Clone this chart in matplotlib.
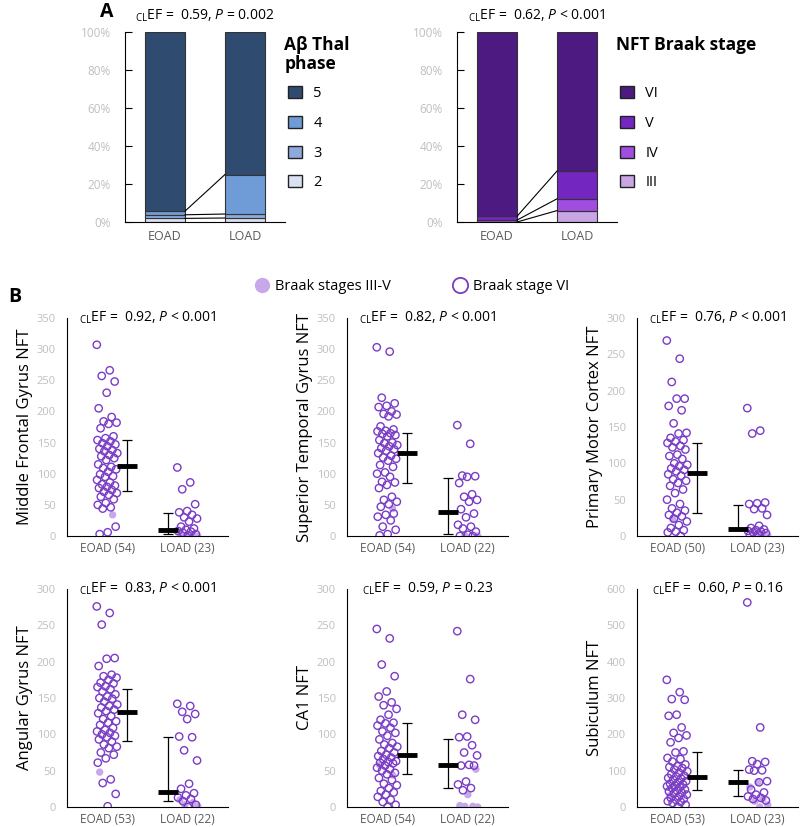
import numpy as np
import matplotlib.pyplot as plt
from matplotlib.patches import Patch
from matplotlib.lines import Line2D

plt.rcParams['font.family'] = ['Open Sans', 'Noto Sans', 'DejaVu Sans']
plt.rcParams['mathtext.fontset'] = 'custom'
plt.rcParams['mathtext.rm'] = 'Open Sans'
plt.rcParams['mathtext.it'] = 'Open Sans:italic'

# ---------------- data: panel A (percent of cases) ----------------
groups = ['EOAD', 'LOAD']
thal_phases = ['2', '3', '4', '5']
thal_eoad = [1.9, 1.9, 1.9, 94.3]
thal_load = [2.1, 2.1, 20.8, 75.0]
thal_colors = ['#D9E1F2', '#8EA9DB', '#6F9BD6', '#2F4B70']

braak_stages = ['III', 'IV', 'V', 'VI']
braak_eoad = [0.0, 1.0, 2.0, 97.0]
braak_load = [6.0, 6.2, 14.6, 73.2]
braak_colors = ['#C9A5E4', '#A04DE0', '#7326C0', '#4C1A80']

# ---------------- data: panel B (NFT counts) ----------------
# open = Braak stage VI, filled = Braak stages III-V
mfg_eoad_open = [307, 266, 257, 248, 230, 205, 191, 184, 182, 180, 173, 160, 157, 154, 152,
                 149, 147, 144, 140, 138, 136, 133, 130, 128, 125, 122, 115, 111, 109, 107,
                 103, 99, 96, 95, 90, 86, 83, 81, 79, 77, 74, 71, 69, 66, 63, 59, 53, 50,
                 46, 44, 15, 6, 3]
mfg_eoad_fill = [34]
mfg_load_open = [110, 86, 75, 51, 40, 38, 34, 30, 28, 23, 15, 12, 10, 8, 7, 5, 3, 1]
mfg_load_fill = [4, 2, 1, 0, 0]

stg_eoad_open = [303, 296, 222, 213, 209, 207, 200, 196, 195, 192, 176, 171, 169, 168, 165,
                 164, 162, 160, 154, 150, 149, 146, 144, 141, 139, 137, 133, 129, 126, 124,
                 121, 114, 111, 102, 100, 95, 87, 86, 82, 77, 63, 58, 55, 51, 47, 36, 34,
                 31, 25, 15, 10, 3, 1]
stg_eoad_fill = [44]
stg_load_open = [178, 148, 97, 96, 95, 85, 67, 63, 58, 55, 43, 36, 30, 18, 15, 12, 7, 2, 0, 0]
stg_load_fill = [1, 0]

pmc_eoad_open = [269, 244, 212, 189, 189, 179, 173, 155, 142, 141, 135, 132, 130, 128, 124,
                 122, 119, 112, 110, 106, 100, 98, 96, 93, 91, 89, 85, 83, 78, 76, 73, 69,
                 64, 59, 50, 44, 38, 35, 32, 29, 27, 24, 20, 15, 11, 8, 6, 5, 0]
pmc_eoad_fill = [23]
pmc_load_open = [176, 145, 141, 46, 45, 44, 38, 37, 29, 14, 11, 9, 8, 7, 6, 5, 4, 2, 1]
pmc_load_fill = [3, 2, 1, 0]

ang_eoad_open = [276, 267, 251, 205, 204, 194, 182, 180, 178, 175, 171, 170, 166, 165, 162,
                 159, 155, 152, 150, 149, 145, 141, 139, 137, 134, 132, 129, 125, 121, 118,
                 116, 113, 109, 106, 104, 102, 100, 98, 96, 93, 90, 86, 83, 81, 75, 72, 67,
                 61, 38, 33, 18, 1]
ang_eoad_fill = [48]
ang_load_open = [142, 139, 131, 128, 121, 97, 96, 78, 64, 32, 25, 19, 16, 13, 11, 8, 3, 0]
ang_load_fill = [10, 6, 3, 1]

ca1_eoad_open = [245, 232, 196, 180, 159, 152, 144, 140, 135, 127, 120, 116, 115, 112, 109,
                 104, 102, 98, 93, 88, 86, 83, 81, 77, 75, 72, 70, 68, 66, 63, 62, 61, 60,
                 57, 54, 52, 50, 47, 45, 40, 37, 32, 30, 26, 22, 20, 17, 14, 10, 7, 3, 0]
ca1_eoad_fill = [58, 44]
ca1_load_open = [242, 176, 127, 120, 97, 96, 85, 75, 71, 58, 57, 57, 35, 31, 26, 23]
ca1_load_fill = [52, 17, 2, 1, 1, 0]

sub_eoad_open = [350, 316, 297, 295, 254, 251, 219, 204, 197, 190, 178, 153, 150, 135, 132,
                 125, 117, 112, 110, 107, 103, 98, 94, 90, 86, 84, 80, 78, 75, 71, 68, 64,
                 62, 59, 57, 55, 52, 48, 45, 43, 39, 37, 34, 29, 25, 22, 20, 16, 14, 11, 6, 0]
sub_eoad_fill = [31]
sub_load_open = [563, 219, 126, 124, 118, 103, 101, 100, 71, 68, 48, 40, 34, 29, 25, 22, 18]
sub_load_fill = [68, 55, 22, 16, 6, 0]

# summary bars (centre, lower, upper) for EOAD and LOAD
mfg_summary = [(113, 73, 154), (10, 3, 37)]
stg_summary = [(134, 85, 166), (39, 4, 93)]
pmc_summary = [(87, 32, 128), (10, 8, 42)]
ang_summary = [(131, 91, 163), (21, 8, 96)]
ca1_summary = [(71, 45, 115), (58, 26, 94)]
sub_summary = [(83, 48, 151), (69, 29, 103)]

OPEN_COL = '#7A3CC4'
FILL_COL = '#C9A7EB'
TICK_GRAY = '#BFBFBF'
LABEL_GRAY = '#595959'

W, H = 800, 827
fig = plt.figure(figsize=(W / 100, H / 100), dpi=100)


def px_axes(left, top, right, bottom):
    return fig.add_axes([left / W, 1 - bottom / H, (right - left) / W, (bottom - top) / H])


def stat_text(ax, r, op, p, y=1.0):
    ax.text(0.5, y, r'$_{\rm CL}$EF =  ' + r + ', ' + r'$\it{P}$ ' + op + ' ' + p,
            transform=ax.transAxes, ha='center', va='center', fontsize=10, color='black')


# ---------------- panel A ----------------
def stacked(ax, eoad, load, colors, labels, title, stat):
    x = np.arange(len(groups))
    bottoms = np.zeros(2)
    for vals, col in zip(zip(eoad, load), colors):
        vals = np.array(vals)
        ax.bar(x, vals, bottom=bottoms, width=0.5, color=col,
               edgecolor='#333333', linewidth=0.8)
        bottoms = bottoms + vals
        if bottoms[0] < 99.9:
            ax.plot([0.25, 0.75], bottoms, color='black', lw=0.8)
    ax.set_xlim(-0.5, 1.5)
    ax.set_ylim(0, 100)
    ax.set_yticks(np.arange(0, 101, 20))
    ax.set_yticklabels([f'{v}%' for v in range(0, 101, 20)])
    ax.set_xticks(x)
    ax.set_xticklabels(groups)
    ax.tick_params(axis='y', direction='in', length=5, labelcolor=TICK_GRAY, labelsize=8.5, pad=10)
    ax.tick_params(axis='x', length=0, labelcolor=LABEL_GRAY, labelsize=9, pad=6)
    for s in ['top', 'right']:
        ax.spines[s].set_visible(False)
    handles = [Patch(facecolor=c, edgecolor='#222222', linewidth=1) for c in colors][::-1]
    ax.legend(handles, labels[::-1], loc='upper left', bbox_to_anchor=(0.985, 0.745),
              frameon=False, fontsize=10.5, handlelength=0.9, handleheight=0.9,
              labelspacing=1.0, handletextpad=0.8, borderaxespad=0)
    ax.text(0.995, 0.98, title, transform=ax.transAxes, ha='left', va='top',
            fontsize=12.5, fontweight='bold', linespacing=1.1)
    stat_text(ax, *stat, y=1.085)


axA1 = px_axes(125, 32, 285, 222)
stacked(axA1, thal_eoad, thal_load, thal_colors, thal_phases, 'A\u03b2 Thal\nphase',
        ('0.59', '=', '0.002'))
axA2 = px_axes(457, 32, 617, 222)
stacked(axA2, braak_eoad, braak_load, braak_colors, braak_stages, 'NFT Braak stage',
        ('0.62', '<', '0.001'))


# ---------------- panel B ----------------
def jitter(n, centre):
    i = np.arange(n)
    return centre + (((i * 0.618034) % 1.0) - 0.5) * 0.26


def scatter_panel(ax, eo, ef, lo, lf, summary, ylabel, ymax, ystep, n_e, n_l, stat):
    for c, (op, fi) in enumerate([(eo, ef), (lo, lf)]):
        allv = list(op) + list(fi)
        xs = jitter(len(allv), c)
        ax.scatter(xs[len(op):], fi, s=28, color=FILL_COL, edgecolors='none', zorder=2)
        ax.scatter(xs[:len(op)], op, s=28, facecolors='none', edgecolors=OPEN_COL,
                   linewidths=1.0, zorder=3)
    for c, (mid, lo_, hi_) in zip([0.25, 0.75], summary):
        ax.errorbar(c, mid, yerr=[[mid - lo_], [hi_ - mid]], fmt='none', ecolor='black',
                    elinewidth=0.9, capsize=3.5, capthick=0.9, zorder=4)
        ax.plot([c - 0.125, c + 0.125], [mid, mid], color='black', lw=3.5,
                solid_capstyle='butt', zorder=5)
    ax.set_xlim(-0.5, 1.5)
    ax.set_ylim(0, ymax)
    ax.set_yticks(np.arange(0, ymax + 1, ystep))
    ax.set_xticks([0, 1])
    ax.set_xticklabels([f'EOAD ({n_e})', f'LOAD ({n_l})'])
    ax.tick_params(axis='y', length=0, labelcolor=TICK_GRAY, labelsize=8, pad=8)
    ax.tick_params(axis='x', length=0, labelcolor=LABEL_GRAY, labelsize=8.5, pad=4)
    for s in ['top', 'right']:
        ax.spines[s].set_visible(False)
    ax.set_ylabel(ylabel, fontsize=12, color='black', labelpad=3)
    stat_text(ax, *stat)


ax1 = px_axes(67, 318, 228, 536)
scatter_panel(ax1, mfg_eoad_open, mfg_eoad_fill, mfg_load_open, mfg_load_fill, mfg_summary,
              'Middle Frontal Gyrus NFT', 350, 50, 54, 23, ('0.92', '<', '0.001'))
ax2 = px_axes(347, 318, 508, 536)
scatter_panel(ax2, stg_eoad_open, stg_eoad_fill, stg_load_open, stg_load_fill, stg_summary,
              'Superior Temporal Gyrus NFT', 350, 50, 54, 22, ('0.82', '<', '0.001'))
ax3 = px_axes(637, 318, 798, 536)
scatter_panel(ax3, pmc_eoad_open, pmc_eoad_fill, pmc_load_open, pmc_load_fill, pmc_summary,
              'Primary Motor Cortex NFT', 300, 50, 50, 23, ('0.76', '<', '0.001'))
ax4 = px_axes(67, 589, 228, 807)
scatter_panel(ax4, ang_eoad_open, ang_eoad_fill, ang_load_open, ang_load_fill, ang_summary,
              'Angular Gyrus NFT', 300, 50, 53, 22, ('0.83', '<', '0.001'))
ax5 = px_axes(347, 589, 508, 807)
scatter_panel(ax5, ca1_eoad_open, ca1_eoad_fill, ca1_load_open, ca1_load_fill, ca1_summary,
              'CA1 NFT', 300, 50, 54, 22, ('0.59', '=', '0.23'))
ax6 = px_axes(637, 589, 798, 807)
scatter_panel(ax6, sub_eoad_open, sub_eoad_fill, sub_load_open, sub_load_fill, sub_summary,
              'Subiculum NFT', 600, 100, 53, 23, ('0.60', '=', '0.16'))

# legend for panel B
leg_handles = [
    Line2D([], [], ls='none', marker='o', markersize=11, markerfacecolor=FILL_COL,
           markeredgecolor='none'),
    Line2D([], [], ls='none', marker='o', markersize=11, markerfacecolor='none',
           markeredgecolor=OPEN_COL, markeredgewidth=1.3),
]
fig.legend(leg_handles, ['Braak stages III-V', 'Braak stage VI'], loc='center',
           bbox_to_anchor=(0.514, 1 - 287 / H), ncol=2, frameon=False, fontsize=10.5,
           columnspacing=4.1, handletextpad=0.3, handlelength=1.2)

fig.text(100 / W, 1 - 12 / H, 'A', fontsize=14, fontweight='bold', ha='left', va='center')
fig.text(8 / W, 1 - 297 / H, 'B', fontsize=14, fontweight='bold', ha='left', va='center')

fig.savefig('out.png', dpi=100, facecolor='white')
